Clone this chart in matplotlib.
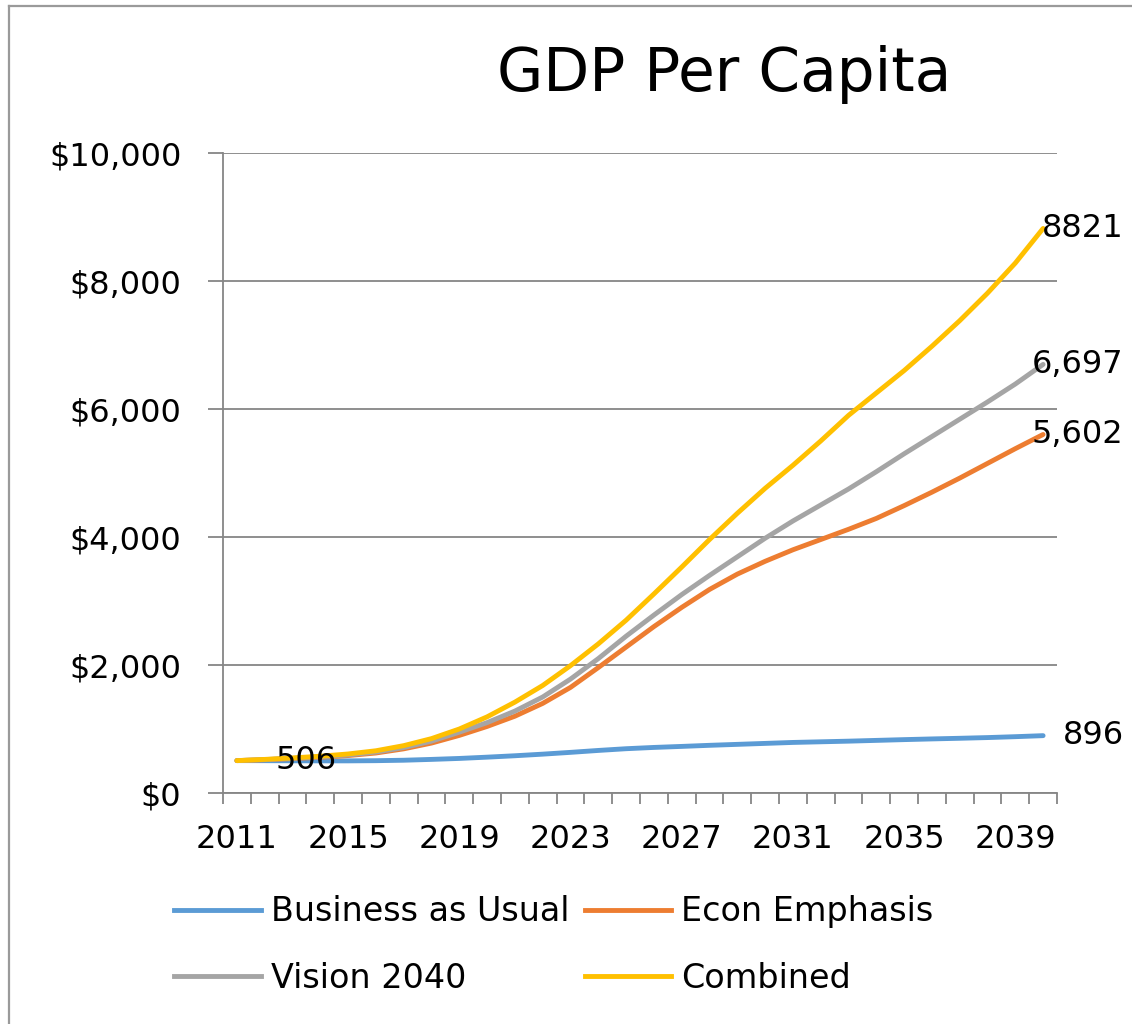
import matplotlib
matplotlib.use("Agg")
import matplotlib.pyplot as plt
from matplotlib.lines import Line2D
from matplotlib.ticker import FuncFormatter, FixedLocator

# values
years = list(range(2011, 2041))
business_as_usual = [506, 505, 503, 502, 502, 505, 512, 525, 540, 560,
                     582, 607, 635, 665, 692, 712, 728, 745, 760, 775,
                     790, 800, 810, 822, 834, 845, 855, 866, 880, 896]
econ_emphasis = [506, 520, 538, 558, 585, 625, 690, 780, 900, 1040,
                 1200, 1400, 1650, 1960, 2280, 2600, 2900, 3180, 3420, 3620,
                 3800, 3960, 4120, 4290, 4490, 4700, 4920, 5150, 5380, 5602]
vision_2040 = [506, 522, 542, 565, 595, 640, 710, 810, 950, 1100,
               1280, 1500, 1780, 2100, 2450, 2780, 3100, 3400, 3690, 3980,
               4250, 4500, 4750, 5020, 5300, 5570, 5840, 6110, 6390, 6697]
combined = [506, 525, 548, 575, 610, 660, 740, 850, 1000, 1190,
            1420, 1680, 1990, 2330, 2700, 3110, 3530, 3960, 4370, 4760,
            5120, 5500, 5900, 6250, 6600, 6980, 7380, 7810, 8280, 8821]

series_names = ["Business as Usual", "Econ Emphasis", "Vision 2040", "Combined"]
series_values = [business_as_usual, econ_emphasis, vision_2040, combined]
colors = ["#5B9BD5", "#ED7D31", "#A5A5A5", "#FFC000"]
end_labels = ["896", "5,602", "6,697", "8821"]

W, H = 1132, 1024
fig = plt.figure(figsize=(W / 100, H / 100), dpi=100)
fig.patch.set_facecolor("white")

# outer chart border (left and top visible)
fig.add_artist(Line2D([8.5 / W, 8.5 / W], [0, 1 - 5.5 / H], transform=fig.transFigure,
                      color="#9a9a9a", lw=1.6))
fig.add_artist(Line2D([8.5 / W, 1], [1 - 5.5 / H, 1 - 5.5 / H], transform=fig.transFigure,
                      color="#9a9a9a", lw=1.6))

ax = fig.add_axes([223 / W, 1 - 793 / H, 834 / W, 640 / H])
idx = list(range(len(years)))

for vals, c, name in zip(series_values, colors, series_names):
    ax.plot(idx, vals, color=c, lw=3.5, label=name, solid_capstyle="round",
            solid_joinstyle="round")

ax.set_xlim(-0.5, len(years) - 0.5)
ax.set_ylim(0, 10000)

# x axis: labels every 4 years, ticks between categories
label_idx = idx[::4]
ax.set_xticks(label_idx)
ax.set_xticklabels([str(years[i]) for i in label_idx])
ax.xaxis.set_minor_locator(FixedLocator([i - 0.5 for i in range(len(years) + 1)]))
ax.tick_params(axis="x", which="major", length=0, pad=22, labelsize=23)
ax.tick_params(axis="x", which="minor", length=8, width=1.3, color="#868686")

ax.set_yticks(range(0, 10001, 2000))
ax.yaxis.set_major_formatter(FuncFormatter(lambda v, p: "${:,.0f}".format(v)))
ax.tick_params(axis="y", length=11, width=1.3, color="#868686", pad=19, labelsize=23)

ax.grid(axis="y", color="#868686", lw=1.3)
ax.set_axisbelow(True)
for s in ["top", "right"]:
    ax.spines[s].set_visible(False)
for s in ["left", "bottom"]:
    ax.spines[s].set_color("#868686")
    ax.spines[s].set_linewidth(1.3)

# data labels
ax.text(0.0624, business_as_usual[0], "506", transform=ax.get_yaxis_transform(),
        ha="left", va="center", fontsize=23)
for vals, lab in zip(series_values, end_labels):
    ax.text(1.080, vals[-1], lab, transform=ax.get_yaxis_transform(),
            ha="right", va="center", fontsize=23)

fig.text(724 / W, 1 - 74 / H, "GDP Per Capita", ha="center", va="center", fontsize=43)

# legend filled row by row: reorder for matplotlib's column-wise fill
order = [0, 2, 1, 3]
handles = [Line2D([], [], color=colors[i], lw=3.5) for i in order]
labels = [series_names[i] for i in order]
fig.legend(handles, labels, loc="center", bbox_to_anchor=(554 / W, 1 - 945 / H),
           ncol=2, frameon=False, fontsize=24, handlelength=2.6, handletextpad=0.3,
           columnspacing=0.45, labelspacing=1.0, borderpad=0)

fig.savefig("out.png", dpi=100, facecolor="white")
